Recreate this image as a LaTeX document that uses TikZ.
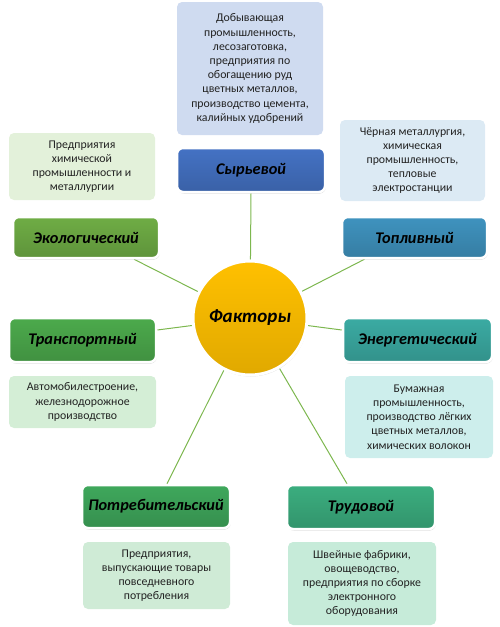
\documentclass[tikz,border=0pt]{standalone}
\usepackage{fontspec}
\setmainfont{Carlito}
\usetikzlibrary{shadows,backgrounds,calc}
\definecolor{dsyrc}{HTML}{CFDBF0}
\definecolor{syrc}{HTML}{4472C4}
\definecolor{decoc}{HTML}{E3F1DA}
\definecolor{ecoc}{HTML}{6FAD45}
\definecolor{dtopc}{HTML}{DCEAF4}
\definecolor{topc}{HTML}{3F93BF}
\definecolor{dtrc}{HTML}{D4EED6}
\definecolor{trc}{HTML}{4CAA4C}
\definecolor{denc}{HTML}{CDEEEC}
\definecolor{enc}{HTML}{3BABA3}
\definecolor{dpotc}{HTML}{CFEBD6}
\definecolor{potc}{HTML}{3FA85C}
\definecolor{dtrudc}{HTML}{C6EBD9}
\definecolor{trudc}{HTML}{3BAE7F}
\definecolor{circc}{HTML}{FFC000}
\definecolor{txtc}{HTML}{222222}
\definecolor{linec}{HTML}{7DB74F}
\tikzset{
  descbox/.style={rounded corners=5pt, inner sep=0pt, align=center,
    font=\fontsize{11.8}{14.2}\selectfont, text=txtc},
  titlebox/.style={rounded corners=6pt, draw=white, line width=2.5pt, inner sep=0pt,
    top color=#1, bottom color=#1!85!black,
    drop shadow={shadow xshift=0.6pt, shadow yshift=-1.5pt, opacity=0.35},
    font=\fontsize{16.3}{19}\selectfont\bfseries\itshape, text=black},
  conn/.style={draw=linec, line width=1pt}
}
\begin{document}
\begin{tikzpicture}[x=1pt,y=-1pt]
\useasboundingbox (0,0) rectangle (500,627);
% description boxes
\node[descbox, fill=dsyrc, minimum width=146pt, minimum height=133pt] (dsyr) at (250,68.5)
 {Добывающая\\промышленность,\\лесозаготовка,\\предприятия по\\обогащению руд\\цветных металлов,\\производство цемента,\\калийных удобрений};
\node[descbox, fill=decoc, minimum width=146pt, minimum height=67pt] (deco) at (82,166.5)
 {Предприятия\\химической\\промышленности и\\металлургии};
\node[descbox, fill=dtopc, minimum width=145pt, minimum height=81pt] (dtop) at (412.5,160.5)
 {Чёрная металлургия,\\химическая\\промышленность,\\тепловые\\электростанции};
\node[descbox, fill=dtrc, minimum width=147pt, minimum height=52pt] (dtr) at (82.5,402)
 {Автомобилестроение,\\железнодорожное\\производство};
\node[descbox, fill=denc, minimum width=148pt, minimum height=82pt] (den) at (419,417)
 {Бумажная\\промышленность,\\производство лёгких\\цветных металлов,\\химических волокон};
\node[descbox, fill=dpotc, minimum width=147pt, minimum height=67pt] (dpot) at (156.5,575.5)
 {Предприятия,\\выпускающие товары\\повседневного\\потребления};
\node[descbox, fill=dtrudc, minimum width=148pt, minimum height=83pt] (dtrud) at (362,583.5)
 {Швейные фабрики,\\овощеводство,\\предприятия по сборке\\электронного\\оборудования};
% title boxes
\node[titlebox=syrc, minimum width=148pt, minimum height=44pt] (syr) at (251,170) {Сырьевой};
\node[titlebox=ecoc, minimum width=146pt, minimum height=41pt] (eco) at (86,237.5) {Экологический};
\node[titlebox=topc, minimum width=145pt, minimum height=41pt] (top) at (414.5,237.5) {Топливный};
\node[titlebox=trc, minimum width=147pt, minimum height=44pt] (tr) at (82.5,340) {Транспортный};
\node[titlebox=enc, minimum width=149pt, minimum height=44pt] (en) at (417.5,340) {Энергетический};
\node[titlebox=potc, minimum width=148pt, minimum height=43pt] (pot) at (156,506.5) {Потребительский};
\node[titlebox=trudc, minimum width=148pt, minimum height=44pt] (trud) at (361,507) {Трудовой};
% center circle
\node[circle, draw=white, line width=3pt, top color=circc, bottom color=circc!88!black,
  drop shadow={shadow xshift=0.6pt, shadow yshift=-1.5pt, opacity=0.35},
  minimum size=114pt, inner sep=0pt,
  font=\fontsize{19}{22}\selectfont\bfseries\itshape] (f) at (250,318) {Факторы};
% connectors
\begin{pgfonlayer}{background}
\draw[conn] (syr.south) -- (f);
\draw[conn] ([xshift=48pt]eco.south) -- (f);
\draw[conn] ([xshift=-50pt]top.south) -- (f);
\draw[conn] ([yshift=10pt]tr.east) -- (f);
\draw[conn] ([yshift=10pt]en.west) -- (f);
\draw[conn] ([xshift=11pt]pot.north) -- (f);
\draw[conn] ([xshift=-14pt]trud.north) -- (f);
\end{pgfonlayer}
\end{tikzpicture}
\end{document}
